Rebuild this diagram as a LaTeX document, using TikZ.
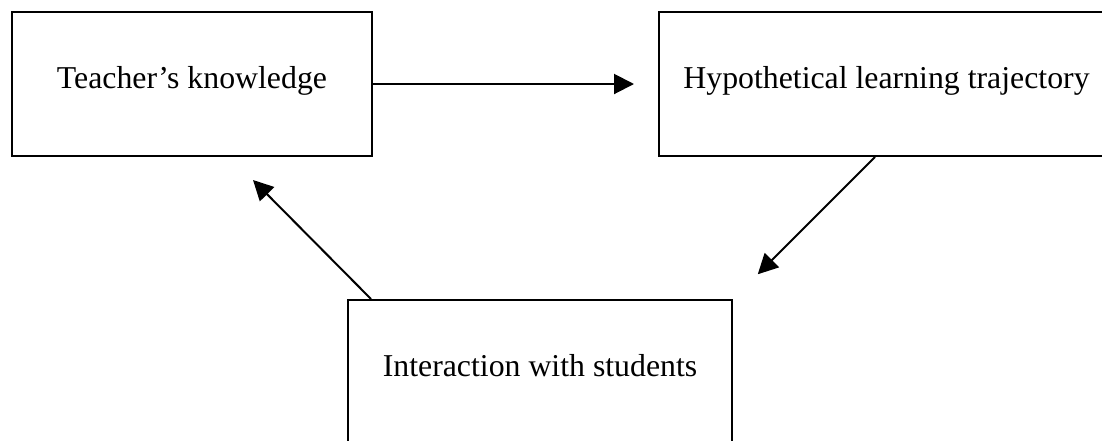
\documentclass[tikz,border=0pt]{standalone}
\usepackage{fontspec}
\setmainfont{Liberation Serif}
\usetikzlibrary{arrows.meta}
\begin{document}
\begin{tikzpicture}[x=1pt,y=-1pt,
  box/.style={draw=black,line width=2pt,rectangle,inner sep=0pt,
    minimum height=144pt,text height=22pt,text depth=14pt,
    font=\fontsize{31.8}{38}\selectfont},
  link/.style={draw=black,line width=2pt,-{Triangle[length=20pt,width=20pt]}}]
  \clip (0,0) rectangle (1102,440);
  % the three stages of the cycle
  \node[box,minimum width=360pt] (tk) at (192,84) {Teacher’s knowledge};
  \node[box,minimum width=455pt] (hlt) at (886.5,84) {Hypothetical learning trajectory};
  \node[box,minimum width=384pt] (iws) at (540,372) {Interaction with students};
  % free ends of the diagonal arrows
  \coordinate (hltout) at ([xshift=-11.5pt]hlt.south);
  \coordinate (iwsout) at ([xshift=24pt]iws.north west);
  \coordinate (tkin) at (253,180);
  % arrows
  \draw[link,shorten >=24pt] (tk.east) -- (hlt.west);
  \draw[link,shorten >=35pt] (hltout) -- (iws.north east);
  \draw[link] (iwsout) -- (tkin);
\end{tikzpicture}
\end{document}
